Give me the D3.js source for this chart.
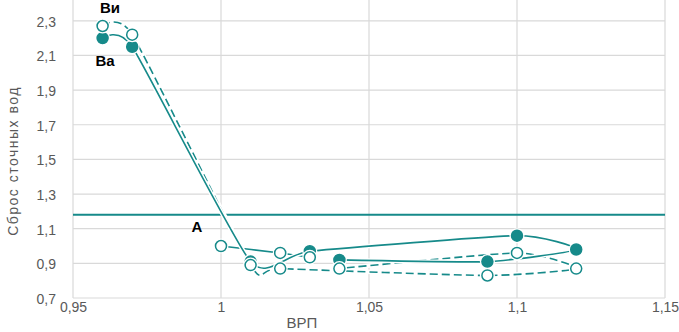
<!DOCTYPE html>
<html>
<head>
<meta charset="utf-8">
<script src="https://cdn.jsdelivr.net/npm/d3@7"></script>
<style>
  body { margin: 0; background: #fff; }
  text { font-family: "Liberation Sans", Arial, sans-serif; }
  .tick text { fill: #595959; font-size: 14px; }
</style>
</head>
<body>
<svg width="679" height="332"></svg>
<script>
// **** data ****
var xTicks = [0.95, 1, 1.05, 1.1, 1.15];
var yTicks = [0.7, 0.9, 1.1, 1.3, 1.5, 1.7, 1.9, 2.1, 2.3];

// Ва - filled markers, solid line
var vaX = [0.96, 0.97, 1.01, 1.03, 1.10, 1.12, 1.09, 1.04];
var vaY = [2.20, 2.15, 0.91, 0.97, 1.06, 0.98, 0.91, 0.92];

// Ви - hollow markers, dashed line
var viX = [0.96, 0.97, 1.01, 1.02, 1.09, 1.12, 1.10, 1.04];
var viY = [2.27, 2.22, 0.89, 0.87, 0.83, 0.87, 0.96, 0.87];

// А - hollow markers, solid line
var aX = [1.00, 1.02, 1.03];
var aY = [1.00, 0.96, 0.935];

var level = 1.18;

var teal = "#168a8a";

// **** scales ****
var xScale = d3.scaleLinear().domain([0.95, 1.15]).range([73, 665]);
var yScale = d3.scaleLinear().domain([0.7, 2.42]).range([298, 0]);

var svg = d3.select('svg');

// gridlines
svg.append('g').selectAll('line.v')
    .data(xTicks).enter().append('line')
    .attr('x1', d => xScale(d)).attr('x2', d => xScale(d))
    .attr('y1', 0).attr('y2', yScale(0.7))
    .attr('stroke', '#d9d9d9').attr('stroke-width', 1.2);

svg.append('g').selectAll('line.h')
    .data(yTicks).enter().append('line')
    .attr('x1', xScale(0.95)).attr('x2', xScale(1.15))
    .attr('y1', d => yScale(d)).attr('y2', d => yScale(d))
    .attr('stroke', '#d9d9d9').attr('stroke-width', 1.2);

// axes (labels only)
var xAxis = svg.append('g').attr('class', 'x axis')
    .attr('transform', 'translate(0,' + yScale(0.7) + ')')
    .call(d3.axisBottom(xScale).tickValues(xTicks).tickSize(0).tickPadding(4)
        .tickFormat(d => String(d).replace('.', ',')));
xAxis.select('.domain').remove();

var yAxis = svg.append('g').attr('class', 'y axis')
    .attr('transform', 'translate(' + 56 + ',1)')
    .call(d3.axisLeft(yScale).tickValues(yTicks).tickSize(0).tickPadding(0)
        .tickFormat(d => d3.format('.1f')(d).replace('.', ',')));
yAxis.select('.domain').remove();

svg.append('text')
    .text('ВРП')
    .attr('text-anchor', 'middle')
    .style('font-size', '15px').style('fill', '#595959')
    .attr('transform', 'translate(302,328)');

svg.append('text')
    .text('Сброс сточных вод')
    .attr('text-anchor', 'middle')
    .style('font-size', '14px').style('fill', '#595959')
    .style('letter-spacing', '1.5px')
    .attr('transform', 'translate(18,161) rotate(-90)');

// horizontal level line
svg.append('line')
    .attr('x1', xScale(0.95)).attr('x2', xScale(1.15))
    .attr('y1', yScale(level)).attr('y2', yScale(level))
    .attr('stroke', teal).attr('stroke-width', 2);

var line = d3.line()
    .x(d => xScale(d[0])).y(d => yScale(d[1]))
    .curve(d3.curveCardinal.tension(0.45));

function drawSeries(xs, ys, dashed) {
    var pts = xs.map((x, i) => [x, ys[i]]);
    // white halo under the line
    svg.append('path').attr('d', line(pts))
        .attr('fill', 'none').attr('stroke', '#fff').attr('stroke-width', 4.5);
    svg.append('path').attr('d', line(pts))
        .attr('fill', 'none').attr('stroke', teal).attr('stroke-width', 1.6)
        .attr('stroke-dasharray', dashed ? '8,4' : null);
    return pts;
}

function drawMarkers(pts, filled) {
    var g = svg.append('g');
    g.selectAll('circle.halo').data(pts).enter().append('circle')
        .attr('cx', d => xScale(d[0])).attr('cy', d => yScale(d[1]))
        .attr('r', 7.5).attr('fill', '#fff');
    g.selectAll('circle.m').data(pts).enter().append('circle')
        .attr('cx', d => xScale(d[0])).attr('cy', d => yScale(d[1]))
        .attr('r', 5.5)
        .attr('fill', filled ? teal : '#fff')
        .attr('stroke', teal).attr('stroke-width', 1.5);
}

var viPts = drawSeries(viX, viY, true);
var aPts = drawSeries(aX, aY, false);
var vaPts = drawSeries(vaX, vaY, false);

drawMarkers(vaPts, true);
drawMarkers(viPts, false);
drawMarkers(aPts, false);

// series labels
var labels = [["Ви", 110, 13], ["Ва", 105, 66], ["А", 197, 232]];
svg.selectAll('text.lab').data(labels).enter().append('text')
    .text(d => d[0])
    .attr('text-anchor', 'middle')
    .attr('x', d => d[1]).attr('y', d => d[2])
    .style('font-size', '15px').style('font-weight', 'bold').style('fill', '#000');
</script>
</body>
</html>
